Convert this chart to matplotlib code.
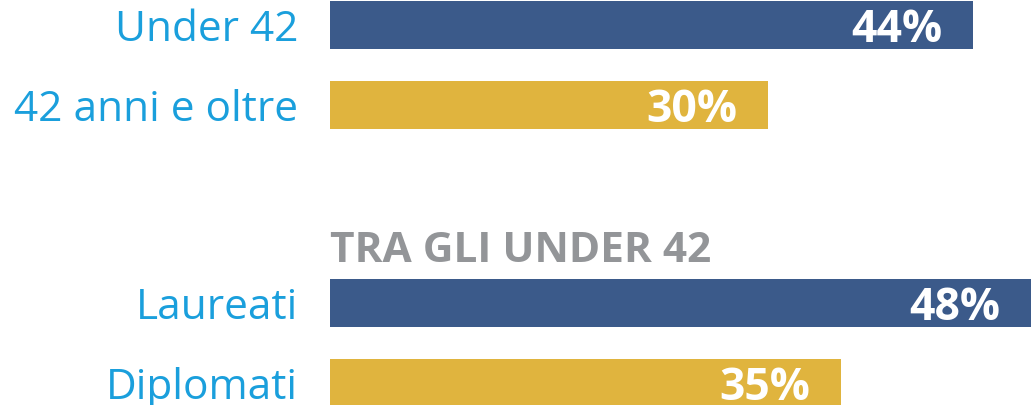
import matplotlib

matplotlib.use("Agg")
import matplotlib.pyplot as plt

# data
labels = ["Under 42", "42 anni e oltre", "Laureati", "Diplomati"]
values = [44, 30, 48, 35]
heading = "TRA GLI UNDER 42"

# layout (slot positions, top to bottom, in bar-pitch units)
positions = [0, 1, 3.475, 4.475]
heading_pos = 2.82
colors = ["#3b5a8a", "#e0b43e", "#3b5a8a", "#e0b43e"]
label_color = "#1a9fdc"
heading_color = "#939598"

plt.rcParams["font.family"] = ["Open Sans", "DejaVu Sans"]

fig = plt.figure(figsize=(10.31, 4.06), dpi=100)
ax = fig.add_axes([330 / 1031, 0, 701 / 1031, 1])
ax.barh(positions, values, height=0.59, color=colors)
ax.set_xlim(0, 48)
ax.set_ylim(4.75, -0.325)
ax.axis("off")

for y, lab, v in zip(positions, labels, values):
    ax.annotate(lab, xy=(0, y), xytext=(-23, -3), textcoords="offset points",
                ha="right", va="center", fontsize=30.5, color=label_color)
    ax.annotate(f"{v}%", xy=(v, y), xytext=(-22, -3), textcoords="offset points",
                ha="right", va="center", fontsize=32, fontweight="bold", color="white")

ax.text(0, heading_pos, heading, ha="left", va="center", fontsize=30.5,
        fontweight="bold", color=heading_color)

fig.savefig("out.png", dpi=100)
